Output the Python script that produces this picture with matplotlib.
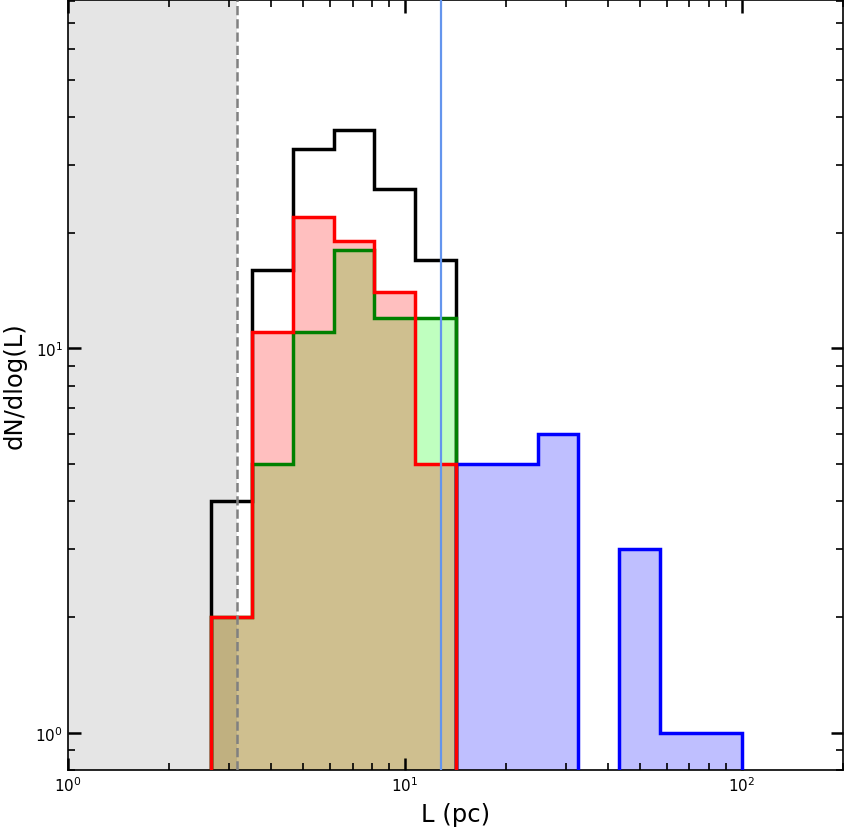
import numpy as np
import matplotlib
matplotlib.use("Agg")
import matplotlib.pyplot as plt

# bin edges in log10(L), 13 bins from ~2.66 pc to 100 pc
log_edges = np.linspace(0.425, 2.0, 14)
edges = 10**log_edges

# counts per bin
total = [4, 16, 33, 37, 26, 17]          # black outline
red = [2, 11, 22, 19, 14, 5]
green = [2, 5, 11, 18, 12, 12]
blue = [5, 5, 6, 0, 3, 1, 1]             # bins 6..12

res_limit = 3.17      # gray shaded region / dashed line
vline_pos = 12.8      # blue vertical line

fig = plt.figure(figsize=(8.44, 8.29), dpi=100)
ax = fig.add_axes([68/844, 1-771/829, (843-68)/844, (771-1)/829])
ax.set_xscale('log')
ax.set_yscale('log')

lw = 2.5
ax.axvspan(0.5, res_limit, color='gray', alpha=0.2, lw=0, zorder=0)
ax.axvline(res_limit, color='gray', ls='--', lw=1.8, zorder=8)

# fills first
ax.stairs(green, edges[:7], baseline=0.1, fill=True, color=(0, 1, 0, 0.25), lw=0, zorder=1)
ax.stairs(blue, edges[6:], baseline=0.1, fill=True, color=(0, 0, 1, 0.25), lw=0, zorder=1)
ax.stairs(red, edges[:7], baseline=0.1, fill=True, color=(1, 0, 0, 0.25), lw=0, zorder=1)

# outlines
ax.stairs(total, edges[:7], baseline=0.1, color='black', lw=lw, zorder=2)
ax.stairs(green, edges[:7], baseline=0.1, color='green', lw=lw, zorder=3)
ax.stairs(blue, edges[6:], baseline=0.1, color='blue', lw=lw, zorder=4)
ax.stairs(red, edges[:7], baseline=0.1, color='red', lw=lw, zorder=5)

ax.axvline(vline_pos, color='cornflowerblue', lw=1.6, zorder=9)

ax.set_xlim(1, 200)
ax.set_ylim(0.8, 80.5)

ax.tick_params(which='both', direction='in', top=True, right=True, labelsize=11)
ax.tick_params(which='major', length=9, width=1.8)
ax.tick_params(which='minor', length=5, width=1.2)
for s in ax.spines.values():
    s.set_linewidth(1.2)

ax.set_xlabel('L (pc)', fontsize=17.5, labelpad=6)
ax.set_ylabel('dN/dlog(L)', fontsize=17.5, labelpad=6)

fig.savefig('out.png', dpi=100)
